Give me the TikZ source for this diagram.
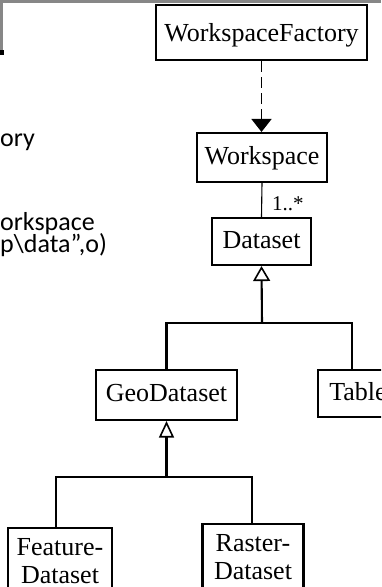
\documentclass[tikz,border=0pt]{standalone}
\usepackage{fontspec}
\setmainfont{Liberation Serif}
\newfontfamily\slidefont{Carlito}
\usetikzlibrary{arrows.meta}
\definecolor{framegray}{HTML}{878787}
\begin{document}
\begin{tikzpicture}[x=1pt,y=-1pt,
  box/.style={draw, line width=2.1pt, inner sep=0pt, font=\fontsize{26}{28}\selectfont},
  sbox/.style={box, text height=18pt, text depth=5pt},
  treeline/.style={line width=2.1pt},
  gen/.style={treeline, -{Triangle[open, width=#1, length=15pt, line width=1.6pt]}},
  gen/.default=17pt,
  depend/.style={line width=1.7pt, dash pattern=on 11pt off 5pt, -{Triangle[width=20pt, length=13pt]}},
  assoc/.style={line width=1.1pt},
  slidetext/.style={anchor=base west, inner sep=0pt, font=\slidefont\fontsize{26}{26}\selectfont}
]
\useasboundingbox (0,0) rectangle (381,587);
\clip (0,0) rectangle (381,587);
\fill[white] (0,0) rectangle (381,587);

% frame fragments
\fill[framegray] (0,0) rectangle (381,3);
\fill[framegray] (0,0) rectangle (3.3,50);
\fill[black] (0,50) rectangle (4,55);

% cropped slide text
\node[slidetext] (t1) at (0,146) {ory};
\node[slidetext] (t2) at (0,230) {orkspace};
\node[slidetext] (t3) at (0,252) {p\textbackslash data”,o)};

% classes
\node[sbox, text depth=0pt, minimum width=211pt, minimum height=55pt] (wf) at (261.5,32.5) {WorkspaceFactory};
\node[sbox, minimum width=130pt, minimum height=49pt] (ws) at (262,157.5) {Workspace};
\node[sbox, minimum width=99pt, minimum height=47pt] (ds) at (261.5,241.5) {Dataset};
\node[sbox, minimum width=141pt, minimum height=50pt] (geo) at (166.5,395) {GeoDataset};
\node[sbox, minimum width=80pt, minimum height=47pt] (tab) at (358,393.5) {Table};
\node[box, align=center, minimum width=104pt, minimum height=66pt, anchor=north] (fd) at (60,527) {Feature-\\Dataset};
\node[box, align=center, minimum width=101pt, minimum height=66pt, anchor=north] (rd) at (253,523) {Raster-\\Dataset};

% dependency
\draw[depend] (wf.south) -- (wf.south |- ws.north);

% association
\draw[assoc] (ws.south) -- (ds.north);
\node[anchor=base west, inner sep=0pt, font=\fontsize{21}{21}\selectfont] (mult) at (272,210) {1..*};

% generalization: Dataset
\coordinate (j1) at (262,322.7);
\coordinate (tabin) at ([xshift=-6.3pt]tab.north);
\draw[treeline] (geo.north) |- (j1) -| (tabin);
\draw[gen] (j1) -- (ds.south);

% generalization: GeoDataset
\coordinate (j2) at (166.5,476.7);
\coordinate (fdin) at ([xshift=-4pt]fd.north);
\coordinate (rdin) at ([xshift=-1.3pt]rd.north);
\draw[treeline] (fdin) |- (j2) -| (rdin);
\draw[treeline, -{Triangle[open, width=15pt, length=16.5pt, line width=1.6pt]}] (j2) -- (geo.south);
\end{tikzpicture}
\end{document}
